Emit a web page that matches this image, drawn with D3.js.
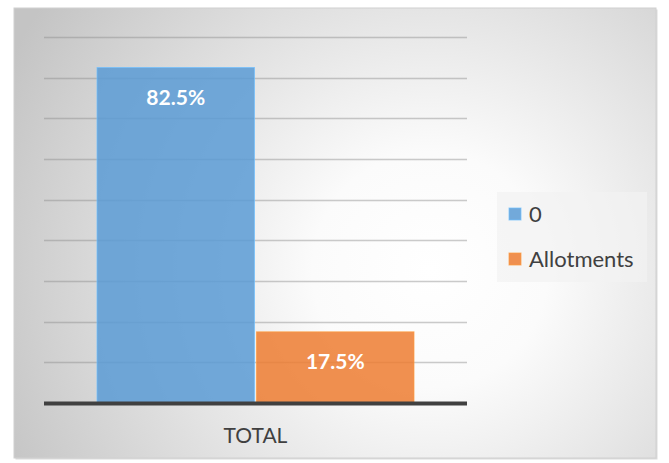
<!DOCTYPE html>
<html>
<head>
<meta charset="utf-8">
<script src="https://cdn.jsdelivr.net/npm/d3@7"></script>
<style>
  html, body { margin: 0; padding: 0; background: #fff; }
  svg { display: block; }
</style>
</head>
<body>
<svg id="chart" width="669" height="463"></svg>
<script>
// Chart data
const categories = ["TOTAL"];
const seriesNames = ["0", "Allotments"];
const seriesValues = [0.825, 0.175];
const seriesColors = ["#5b9bd5", "#ed7d31"];
const gridTicks = [0, 0.1, 0.2, 0.3, 0.4, 0.5, 0.6, 0.7, 0.8, 0.9];

const svg = d3.select("#chart");
const font = "Lato, 'Open Sans', sans-serif";

// Frame with soft radial background
const defs = svg.append("defs");
const rg = defs.append("radialGradient")
  .attr("id", "bg")
  .attr("gradientUnits", "userSpaceOnUse")
  .attr("cx", 430).attr("cy", 270).attr("r", 470);
rg.append("stop").attr("offset", "0").attr("stop-color", "#ffffff");
rg.append("stop").attr("offset", "0.25").attr("stop-color", "#fbfbfb");
rg.append("stop").attr("offset", "1").attr("stop-color", "#c4c4c4");

const frame = { x: 14, y: 8, w: 642, h: 450 };
svg.append("rect")
  .attr("x", frame.x + 1.5).attr("y", frame.y + 1.5)
  .attr("width", frame.w).attr("height", frame.h)
  .attr("fill", "#b8b8b8").attr("opacity", 0.5);
svg.append("rect")
  .attr("x", frame.x).attr("y", frame.y)
  .attr("width", frame.w).attr("height", frame.h)
  .attr("fill", "url(#bg)")
  .attr("stroke", "#d0d0d0").attr("stroke-width", 1);

// Plot area
const plot = { left: 44, right: 467, top: 37, bottom: 403 };

const y = d3.scaleLinear().domain([0, 0.9]).range([plot.bottom, plot.top]);
const x0 = d3.scaleBand().domain(categories).range([plot.left, plot.right]).paddingInner(0).paddingOuter(0.163);
const x1 = d3.scaleBand().domain(seriesNames).range([0, x0.bandwidth()]).padding(0);

// Gridlines
svg.append("g")
  .selectAll("line")
  .data(gridTicks.slice(1))
  .join("line")
  .attr("x1", plot.left).attr("x2", plot.right)
  .attr("y1", d => Math.round(y(d)) + 0.5).attr("y2", d => Math.round(y(d)) + 0.5)
  .attr("stroke", "#8c8c8c").attr("stroke-opacity", 0.45).attr("stroke-width", 1.3);

// Bars with value labels
const barG = svg.append("g");
categories.forEach(cat => {
  seriesNames.forEach((s, i) => {
    const bx = x0(cat) + x1(s);
    const bw = x1.bandwidth();
    barG.append("rect")
      .attr("x", bx + 1).attr("y", y(seriesValues[i]))
      .attr("width", bw - 2).attr("height", plot.bottom - y(seriesValues[i]))
      .attr("fill", seriesColors[i]).attr("fill-opacity", 0.85)
      .attr("stroke", d3.color(seriesColors[i]).brighter(0.6)).attr("stroke-opacity", 0.7).attr("stroke-width", 1);
    barG.append("text")
      .attr("x", bx + bw / 2)
      .attr("y", y(seriesValues[i]) + 30)
      .attr("dy", "0.35em")
      .attr("text-anchor", "middle")
      .attr("font-family", font).attr("font-weight", "bold").attr("font-size", 21)
      .attr("fill", "#ffffff")
      .text(d3.format(".1%")(seriesValues[i]));
  });
});

// Category axis
const xAxis = svg.append("g").attr("transform", `translate(0,${plot.bottom})`)
  .call(d3.axisBottom(x0).tickSize(0).tickPadding(25));
xAxis.select(".domain").remove();
xAxis.append("line")
  .attr("x1", plot.left).attr("x2", plot.right)
  .attr("y1", 0.5).attr("y2", 0.5)
  .attr("stroke", "#404040").attr("stroke-width", 4);
xAxis.selectAll("text")
  .attr("font-family", font).attr("font-size", 21).attr("fill", "#404040");

// Legend
const legend = svg.append("g");
legend.append("rect")
  .attr("x", 497).attr("y", 192).attr("width", 150).attr("height", 90)
  .attr("fill", "#f2f2f2").attr("opacity", 0.7);
seriesNames.forEach((s, i) => {
  const ly = 214 + i * 45;
  legend.append("rect")
    .attr("x", 509).attr("y", ly - 6).attr("width", 12).attr("height", 12)
    .attr("fill", seriesColors[i]).attr("fill-opacity", 0.85)
    .attr("stroke", d3.color(seriesColors[i]).brighter(0.6)).attr("stroke-opacity", 0.7);
  legend.append("text")
    .attr("x", 529).attr("y", ly).attr("dy", "0.35em")
    .attr("font-family", font).attr("font-size", 22).attr("fill", "#404040")
    .text(s);
});
</script>
</body>
</html>
